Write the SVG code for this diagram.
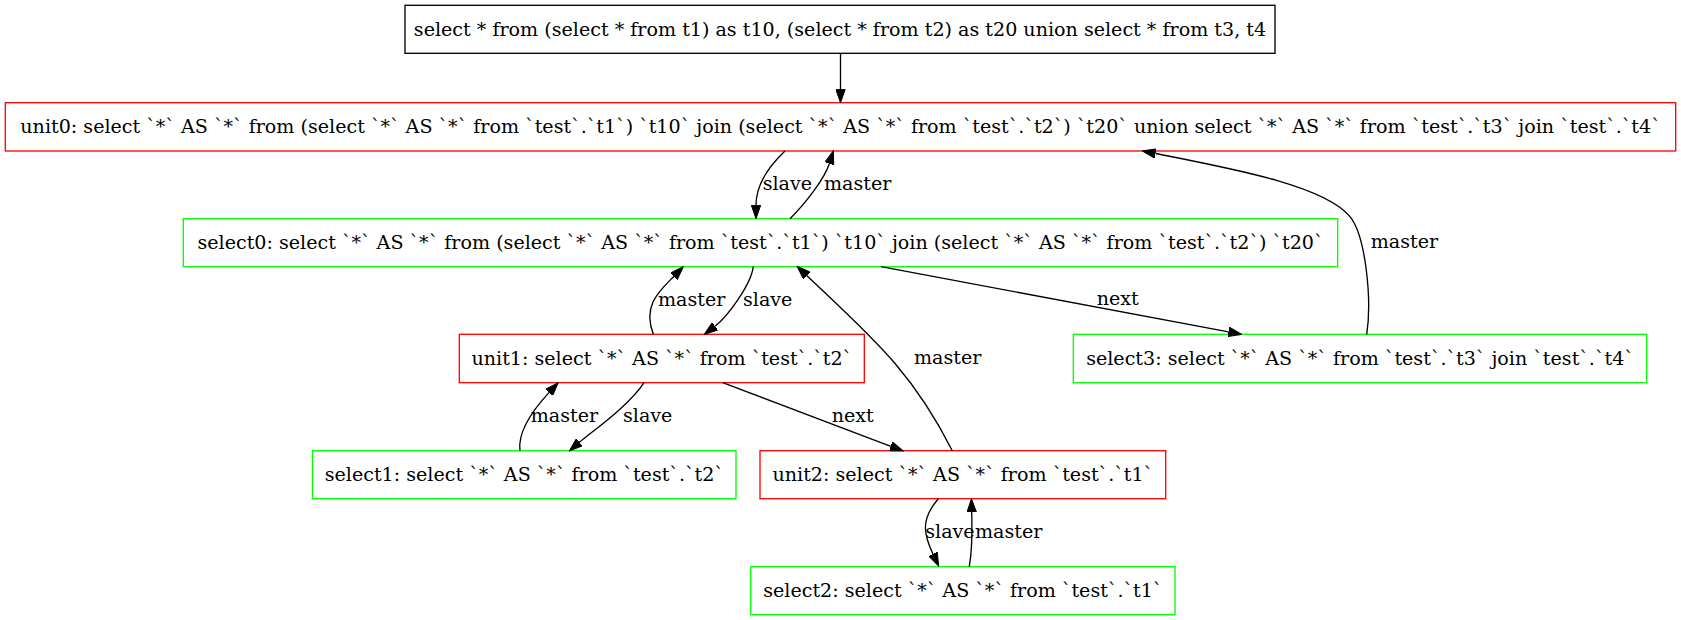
<svg xmlns="http://www.w3.org/2000/svg" width="1681" height="620" viewBox="0 0 1681 620">
<style>
.n rect{fill:none;stroke-width:1.33}
.red rect{stroke:#ff0000}
.green rect{stroke:#00ff00}
.black rect{stroke:#000000}
text{font-family:"DejaVu Serif","Liberation Serif",serif;font-size:19.1px;fill:#000}
.n text{text-anchor:middle}
.e path{fill:none;stroke:#000;stroke-width:1.33;marker-end:url(#ah)}
</style>
<defs>
<marker id="ah" markerUnits="userSpaceOnUse" viewBox="0 -5 14 10" markerWidth="14" markerHeight="10" refX="0" refY="0" orient="auto">
<path d="M0,-4.67 L13.33,0 L0,4.67 z" fill="#000" stroke="#000" stroke-width="1"/>
</marker>
</defs>
<rect x="0" y="0" width="1681" height="620" fill="#fff"/>
<g id="query" class="n black"><rect x="405" y="5.3" width="870" height="48"/><text x="840" y="35.6">select * from (select * from t1) as t10, (select * from t2) as t20 union select * from t3, t4</text></g>
<g id="unit0" class="n red"><rect x="5.3" y="102.7" width="1670.4" height="48.3"/><text x="840.5" y="133.1">unit0: select `*` AS `*` from (select `*` AS `*` from `test`.`t1`) `t10` join (select `*` AS `*` from `test`.`t2`) `t20` union select `*` AS `*` from `test`.`t3` join `test`.`t4`</text></g>
<g id="select0" class="n green"><rect x="183.3" y="218.7" width="1154.4" height="48"/><text x="760.5" y="249">select0: select `*` AS `*` from (select `*` AS `*` from `test`.`t1`) `t10` join (select `*` AS `*` from `test`.`t2`) `t20`</text></g>
<g id="unit1" class="n red"><rect x="459.3" y="334.3" width="405" height="48.4"/><text x="661.8" y="364.8">unit1: select `*` AS `*` from `test`.`t2`</text></g>
<g id="select3" class="n green"><rect x="1073.3" y="334.3" width="573.3" height="48.4"/><text x="1360" y="364.8">select3: select `*` AS `*` from `test`.`t3` join `test`.`t4`</text></g>
<g id="select1" class="n green"><rect x="312.5" y="450.7" width="423.5" height="48"/><text x="524.3" y="481">select1: select `*` AS `*` from `test`.`t2`</text></g>
<g id="unit2" class="n red"><rect x="760" y="450.7" width="405.7" height="48"/><text x="962.8" y="481">unit2: select `*` AS `*` from `test`.`t1`</text></g>
<g id="select2" class="n green"><rect x="750.7" y="566.7" width="424.3" height="48"/><text x="962.8" y="597">select2: select `*` AS `*` from `test`.`t1`</text></g>
<g id="edges" class="e">
<path d="M840.5,53.3 L840.5,89.4"/>
<path d="M785,151 C768,167 756,185 756,205.3"/>
<text x="762.7" y="190">slave</text>
<path d="M790,218.7 C806,203 824.8,178 829.3,163.7"/>
<text x="824" y="190">master</text>
<path d="M1366.7,334.3 C1372,300 1365.8,236.1 1350,216.7 C1324.8,185.7 1234,169 1155.5,153.5"/>
<text x="1370.7" y="248.3">master</text>
<path d="M653.3,334.3 C642,305 660,290.5 674,276.2"/>
<text x="658" y="305.7">master</text>
<path d="M753.3,266.7 C751,285 727,317.3 715,326.3"/>
<text x="743" y="305.7">slave</text>
<path d="M881,266.7 L1228.6,331.9"/>
<text x="1096.7" y="305">next</text>
<path d="M952.3,450.7 C911.6,370.4 872,337.5 806.7,275.5"/>
<text x="914" y="363.5">master</text>
<path d="M520,450.7 C517,428 539,403.4 549.2,392.4"/>
<text x="530.7" y="421.7">master</text>
<path d="M644,382.7 C630,405 590.7,432.5 579.4,442.3"/>
<text x="623" y="421.7">slave</text>
<path d="M722.7,382.7 L890.8,446.3"/>
<text x="831.7" y="421.7">next</text>
<path d="M938.3,498.7 C920,520 924,535 933,554"/>
<text x="925.3" y="537.7">slave</text>
<path d="M969.3,566.7 C973,545 972,528 971.7,512"/>
<text x="975" y="537.7">master</text>
</g>
</svg>
